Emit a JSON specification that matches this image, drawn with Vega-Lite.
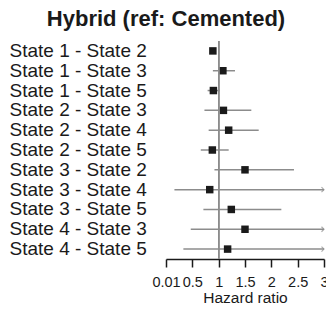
{
  "$schema": "https://vega.github.io/schema/vega-lite/v6.json",
  "autosize": {"type": "none"},
  "width": 158,
  "height": 218,
  "padding": {"left": 166, "top": 41, "right": 2, "bottom": 54},
  "background": "white",
  "config": {
    "view": {"stroke": null},
    "font": "Liberation Sans",
    "axis": {"labelOverlap": false},
    "axisQuantitative": {"labelOverlap": false}
  },
  "title": {
    "text": "Hybrid (ref: Cemented)",
    "fontSize": 22,
    "fontWeight": "bold",
    "color": "#1a1a1a",
    "anchor": "middle",
    "dx": -79,
    "offset": 10
  },
  "data": {
    "values": [
      {"label": "State 1 - State 2", "est": 0.89, "lo": 0.86, "hi": 0.92, "arrow": false},
      {"label": "State 1 - State 3", "est": 1.08, "lo": 0.89, "hi": 1.31, "arrow": false},
      {"label": "State 1 - State 5", "est": 0.9, "lo": 0.79, "hi": 1.02, "arrow": false},
      {"label": "State 2 - State 3", "est": 1.09, "lo": 0.73, "hi": 1.62, "arrow": false},
      {"label": "State 2 - State 4", "est": 1.19, "lo": 0.81, "hi": 1.76, "arrow": false},
      {"label": "State 2 - State 5", "est": 0.88, "lo": 0.66, "hi": 1.19, "arrow": false},
      {"label": "State 3 - State 2", "est": 1.5, "lo": 0.92, "hi": 2.43, "arrow": false},
      {"label": "State 3 - State 4", "est": 0.83, "lo": 0.16, "hi": 3, "arrow": true},
      {"label": "State 3 - State 5", "est": 1.24, "lo": 0.71, "hi": 2.19, "arrow": false},
      {"label": "State 4 - State 3", "est": 1.5, "lo": 0.47, "hi": 3, "arrow": true},
      {"label": "State 4 - State 5", "est": 1.17, "lo": 0.33, "hi": 3, "arrow": true}
    ]
  },
  "encoding": {
    "y": {
      "field": "label",
      "type": "nominal",
      "sort": null,
      "title": null,
      "scale": {"paddingInner": 0, "paddingOuter": 0},
      "axis": {
        "orient": "left",
        "domain": false,
        "ticks": false,
        "tickSize": 0,
        "labelAlign": "left",
        "labelPadding": 157,
        "labelFontSize": 19,
        "labelColor": "#1a1a1a",
        "labelLimit": 0,
        "labelBound": false
      }
    }
  },
  "layer": [
    {
      "mark": {"type": "rule", "color": "#8c8c8c", "strokeWidth": 1.5},
      "encoding": {
        "x": {
          "field": "lo",
          "type": "quantitative",
          "scale": {"domain": [0, 3], "nice": false, "zero": false},
          "title": "Hazard ratio",
          "axis": {
            "tickCount": 6,
            "format": ".1~f",
            "labelExpr": "datum.value == 0 ? '0.01' : datum.label",
            "grid": false,
            "domainColor": "#1a1a1a",
            "domainWidth": 1.5,
            "tickColor": "#1a1a1a",
            "tickWidth": 1.5,
            "tickSize": 8,
            "labelFontSize": 14.5,
            "labelColor": "#1a1a1a",
            "labelFlush": false,
            "labelOverlap": false,
            "labelBound": false,
            "labelPadding": 8,
            "titleFontSize": 15.5,
            "titleFontWeight": "normal",
            "titleColor": "#1a1a1a",
            "titlePadding": 2
          }
        },
        "x2": {"field": "hi"}
      }
    },
    {
      "transform": [{"filter": "datum.arrow"}],
      "mark": {
        "type": "point",
        "shape": "M -1 -1 L 0 0 L -1 1",
        "filled": false,
        "stroke": "#8c8c8c",
        "strokeWidth": 1.2,
        "size": 25
      },
      "encoding": {"x": {"field": "hi", "type": "quantitative"}}
    },
    {
      "mark": {"type": "square", "color": "#1a1a1a", "opacity": 1, "size": 56},
      "encoding": {"x": {"field": "est", "type": "quantitative"}}
    },
    {
      "mark": {"type": "rule", "color": "#8c8c8c", "strokeWidth": 1},
      "encoding": {"y": null, "x": {"datum": 1, "type": "quantitative"}}
    }
  ]
}
